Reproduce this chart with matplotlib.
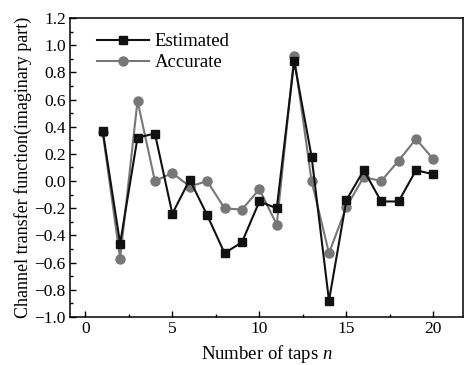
import matplotlib
matplotlib.use("Agg")
import matplotlib.pyplot as plt
from matplotlib.ticker import MultipleLocator

taps = list(range(1, 21))
estimated = [0.37, -0.46, 0.32, 0.35, -0.24, 0.01, -0.25, -0.53, -0.45, -0.15,
             -0.20, 0.88, 0.18, -0.88, -0.14, 0.08, -0.15, -0.15, 0.08, 0.05]
accurate = [0.36, -0.57, 0.59, 0.00, 0.06, -0.04, 0.00, -0.20, -0.21, -0.06,
            -0.32, 0.92, 0.00, -0.53, -0.19, 0.03, 0.00, 0.15, 0.31, 0.16]

plt.rcParams['font.family'] = ['Liberation Serif', 'DejaVu Serif']
plt.rcParams['mathtext.fontset'] = 'custom'
plt.rcParams['mathtext.it'] = 'Liberation Serif:italic'
plt.rcParams['mathtext.rm'] = 'Liberation Serif'

fig = plt.figure(figsize=(4.65, 3.65), dpi=100)
ax = fig.add_axes([0.1505, 0.1315, 0.8452, 0.8192])

ax.plot(taps, estimated, color='#111111', lw=1.5, marker='s', ms=6,
        label='Estimated', zorder=3)
ax.plot(taps, accurate, color='#777777', lw=1.5, marker='o', ms=6.5,
        label='Accurate', zorder=2)

ax.set_xlim(-0.88, 21.7)
ax.set_ylim(-1.0, 1.2)
ax.xaxis.set_major_locator(MultipleLocator(5))
ax.xaxis.set_minor_locator(MultipleLocator(2.5))
ax.yaxis.set_major_locator(MultipleLocator(0.2))
ax.yaxis.set_minor_locator(MultipleLocator(0.1))
ax.yaxis.set_major_formatter(plt.FuncFormatter(lambda v, p: f"{v:.1f}".replace('-', '\u2212')))

ax.tick_params(which='both', direction='in', top=False, right=False,
               labelsize=12.5, width=1.0)
ax.tick_params(which='major', length=4, pad=3)
ax.tick_params(which='minor', length=2.5)
for s in ax.spines.values():
    s.set_linewidth(1.1)

ax.set_xlabel('Number of taps $n$', fontsize=13.5, labelpad=4)
ax.set_ylabel('Channel transfer function(imaginary part)', fontsize=13, labelpad=2)

ax.legend(loc='upper left', frameon=False, fontsize=13.5, handlelength=2.8,
          bbox_to_anchor=(0.025, 1.005), labelspacing=0.2, handletextpad=0.3)

fig.savefig('out.png', dpi=100)
